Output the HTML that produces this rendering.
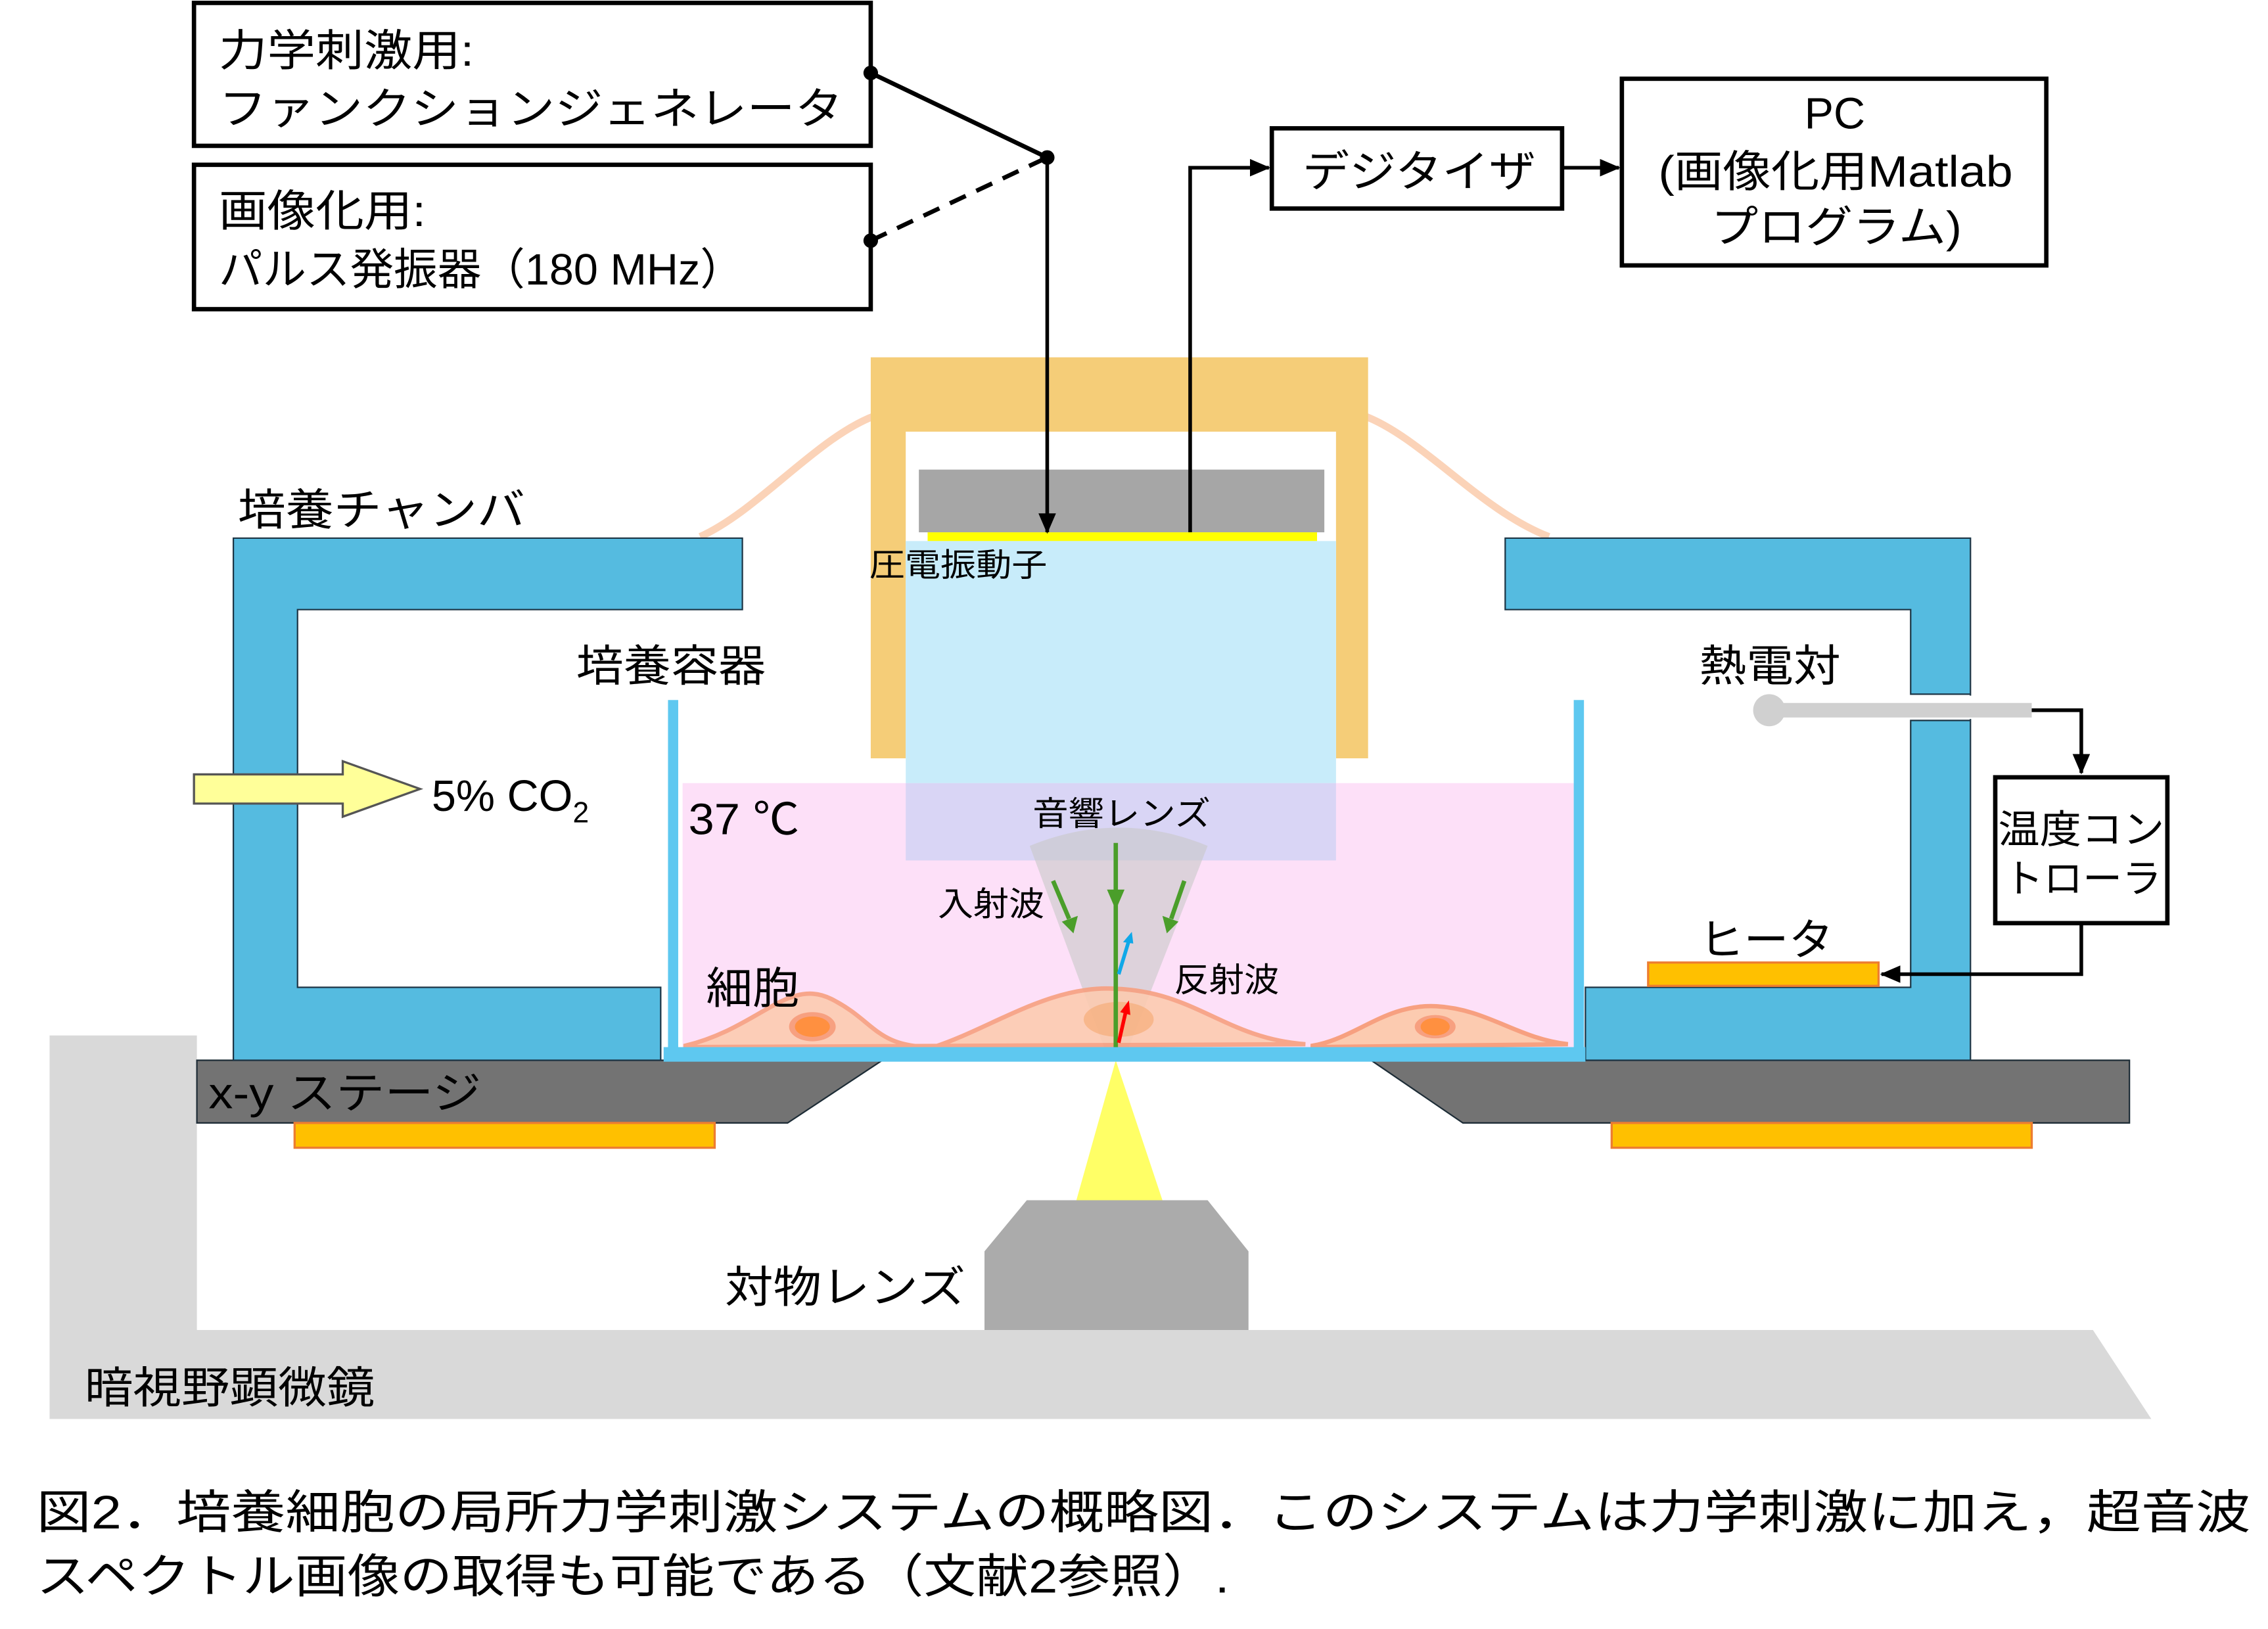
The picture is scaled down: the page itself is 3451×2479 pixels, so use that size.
<!DOCTYPE html>
<html><head><meta charset="utf-8"><style>
html,body{margin:0;padding:0;background:#fff;}
svg{display:block;}
text{font-family:"Liberation Sans","Noto Sans CJK JP",sans-serif;fill:#000;}
</style></head><body>
<svg width="3451" height="2479" viewBox="0 0 1555 1117" preserveAspectRatio="none" xmlns="http://www.w3.org/2000/svg">
<defs>
<marker id="ahb" markerWidth="14" markerHeight="12" refX="13" refY="6" orient="auto" markerUnits="userSpaceOnUse"><path d="M0,0 L14,6 L0,12 Z" fill="#000"/></marker>
</defs>

<!-- microscope -->
<path d="M34,710 H135 V912 H1435 L1475,973 H34 Z" fill="#d9d9d9"/>
<!-- objective -->
<path d="M704,823 H828 L856,858 V912 H675 V858 Z" fill="#ababab"/>
<path d="M765,727 L797,823 H738 Z" fill="#ffff66"/>

<!-- stage -->
<path d="M135,727 H605 L540,770 H135 Z" fill="#737373" stroke="#1d2c36" stroke-width="1"/>
<path d="M940,727 H1460 V770 H1003 Z" fill="#737373" stroke="#1d2c36" stroke-width="1"/>
<rect x="202" y="770" width="288" height="17" fill="#ffc000" stroke="#ed7d31" stroke-width="1.5"/>
<rect x="1105" y="770" width="288" height="17" fill="#ffc000" stroke="#ed7d31" stroke-width="1.5"/>

<!-- cables -->
<path d="M600,285 C560,300 520,350 480,368" fill="none" stroke="#fbd3b8" stroke-width="5"/>
<path d="M935,285 C975,300 1015,350 1062,368" fill="none" stroke="#fbd3b8" stroke-width="5"/>

<!-- chamber -->
<path d="M160,369 H509 V418 H204 V677 H453 V727 H160 Z" fill="#55bbe0" stroke="#1d3545" stroke-width="1"/>
<path d="M1032,369 H1351 V727 H1087 V677 H1310 V494 H1351 V476 H1310 V418 H1032 Z" fill="#55bbe0" stroke="#1d3545" stroke-width="1"/>
<rect x="1300" y="477" width="60" height="16" fill="#fff"/>

<!-- frame -->
<path d="M597,245 H938 V520 H916 V296 H621 V520 H597 Z" fill="#f5cd78"/>
<rect x="630" y="322" width="278" height="43" fill="#a6a6a6"/>
<rect x="636" y="365" width="267" height="6" fill="#ffff00"/>

<!-- medium -->
<rect x="468" y="537" width="611" height="181" fill="#fde0f8"/>
<rect x="621" y="371" width="295" height="166" fill="#c8ecfa"/>
<rect x="621" y="537" width="295" height="53" fill="#d9d5f5"/>

<!-- cone -->
<path d="M706,580 Q767,555 828,580 L774,718 H757 Z" fill="#c8c8c8" opacity="0.6"/>

<!-- cells -->
<path d="M470,717 C520,705 540,670 570,685 C600,700 600,718 640,718 C680,705 720,675 765,678 C820,680 840,712 895,716 L470,718 Z" fill="#fccbb0" opacity="0.9" stroke="#f7a080" stroke-width="3"/>
<path d="M900,717 C930,712 950,688 985,690 C1020,692 1040,712 1075,716 L900,718 Z" fill="#fccbb0" stroke="#f7a080" stroke-width="3"/>
<ellipse cx="557" cy="704" rx="16" ry="10" fill="#f7a080"/><ellipse cx="557" cy="704" rx="12" ry="7" fill="#ff9040"/>
<ellipse cx="984" cy="704" rx="14" ry="8" fill="#f7a080"/><ellipse cx="984" cy="704" rx="10" ry="6" fill="#ff9040"/>
<ellipse cx="767" cy="699" rx="24" ry="12" fill="#f5a870" opacity="0.6"/>

<!-- container -->
<rect x="458" y="480" width="7" height="247" fill="#5ec8f0"/>
<rect x="1079" y="480" width="7" height="247" fill="#5ec8f0"/>
<rect x="455" y="718" width="632" height="10" fill="#5ec8f0"/>

<!-- waves -->
<line x1="765" y1="578" x2="765" y2="718" stroke="#4a9e2a" stroke-width="3"/>
<path d="M759,610 L771,610 L765,624 Z" fill="#4a9e2a"/>
<line x1="722" y1="604" x2="733" y2="630" stroke="#4a9e2a" stroke-width="3"/>
<path d="M728,632 L739,628 L736,640 Z" fill="#4a9e2a"/>
<line x1="812" y1="604" x2="803" y2="630" stroke="#4a9e2a" stroke-width="3"/>
<path d="M797,628 L808,632 L800,640 Z" fill="#4a9e2a"/>
<line x1="767" y1="668" x2="774" y2="645" stroke="#10a8e8" stroke-width="2.5"/>
<path d="M770,646 L777,647 L776,639 Z" fill="#10a8e8"/>
<line x1="767" y1="715" x2="772" y2="693" stroke="#f00" stroke-width="2.5"/>
<path d="M768,694 L775,696 L774,686 Z" fill="#f00"/>

<!-- thermocouple -->
<line x1="1213" y1="487" x2="1393" y2="487" stroke="#d0d0d0" stroke-width="10"/>
<circle cx="1213" cy="487" r="11" fill="#d0d0d0"/>
<path d="M1393,487 H1427 V530" fill="none" stroke="#000" stroke-width="2.5" marker-end="url(#ahb)"/>
<rect x="1368" y="533" width="118" height="100" fill="#fff" stroke="#000" stroke-width="3"/>
<path d="M1427,633 V668 H1290" fill="none" stroke="#000" stroke-width="2.5" marker-end="url(#ahb)"/>
<rect x="1130" y="660" width="158" height="16" fill="#ffc000" stroke="#ed7d31" stroke-width="1.5"/>

<!-- CO2 arrow -->
<path d="M133,531 H235 V522 L288,541 L235,560 V551 H133 Z" fill="#ffff99" stroke="#555" stroke-width="1.5"/>

<!-- top boxes -->
<rect x="133" y="2" width="464" height="98" fill="#fff" stroke="#000" stroke-width="3"/>
<rect x="133" y="113" width="464" height="99" fill="#fff" stroke="#000" stroke-width="3"/>
<rect x="872" y="88" width="199" height="55" fill="#fff" stroke="#000" stroke-width="3"/>
<rect x="1112" y="54" width="291" height="128" fill="#fff" stroke="#000" stroke-width="3"/>
<line x1="597" y1="50" x2="718" y2="108" stroke="#000" stroke-width="3"/>
<line x1="597" y1="165" x2="718" y2="108" stroke="#000" stroke-width="3" stroke-dasharray="12,8"/>
<circle cx="597" cy="50" r="5" fill="#000"/><circle cx="597" cy="165" r="5" fill="#000"/><circle cx="718" cy="108" r="5" fill="#000"/>
<line x1="718" y1="108" x2="718" y2="365" stroke="#000" stroke-width="2.5" marker-end="url(#ahb)"/>
<path d="M816,365 V115 H870" fill="none" stroke="#000" stroke-width="2.5" marker-end="url(#ahb)"/>
<line x1="1071" y1="115" x2="1110" y2="115" stroke="#000" stroke-width="2.5" marker-end="url(#ahb)"/>

<!-- texts -->
<text x="150" y="45" font-size="30" textLength="175" lengthAdjust="spacingAndGlyphs">力学刺激用:</text>
<text x="150" y="85" font-size="30" textLength="428" lengthAdjust="spacingAndGlyphs">ファンクションジェネレータ</text>
<text x="150" y="155" font-size="30" textLength="142" lengthAdjust="spacingAndGlyphs">画像化用:</text>
<text x="150" y="195" font-size="30" textLength="360" lengthAdjust="spacingAndGlyphs">パルス発振器（180 MHz）</text>
<text x="893" y="128" font-size="30" textLength="160" lengthAdjust="spacingAndGlyphs">デジタイザ</text>
<text x="1258" y="88" font-size="30" text-anchor="middle">PC</text>
<text x="1137" y="128" font-size="30" textLength="243" lengthAdjust="spacingAndGlyphs">(画像化用Matlab</text>
<text x="1173" y="166" font-size="30" textLength="172" lengthAdjust="spacingAndGlyphs">プログラム)</text>
<text x="596" y="395" font-size="22" textLength="122" lengthAdjust="spacingAndGlyphs">圧電振動子</text>
<text x="163" y="360" font-size="30" textLength="197" lengthAdjust="spacingAndGlyphs">培養チャンバ</text>
<text x="395" y="467" font-size="30" textLength="130" lengthAdjust="spacingAndGlyphs">培養容器</text>
<text x="1165" y="467" font-size="30" textLength="97" lengthAdjust="spacingAndGlyphs">熱電対</text>
<text x="296" y="556" font-size="30">5% CO<tspan font-size="20" dy="8">2</tspan></text>
<text x="472" y="572" font-size="30" textLength="76" lengthAdjust="spacingAndGlyphs">37 ℃</text>
<text x="708" y="566" font-size="23" textLength="122" lengthAdjust="spacingAndGlyphs">音響レンズ</text>
<text x="643" y="628" font-size="23" textLength="73" lengthAdjust="spacingAndGlyphs">入射波</text>
<text x="805" y="680" font-size="23" textLength="72" lengthAdjust="spacingAndGlyphs">反射波</text>
<text x="484" y="688" font-size="30" textLength="64" lengthAdjust="spacingAndGlyphs">細胞</text>
<text x="1370" y="578" font-size="27" textLength="114" lengthAdjust="spacingAndGlyphs">温度コン</text>
<text x="1374" y="612" font-size="27" textLength="108" lengthAdjust="spacingAndGlyphs">トローラ</text>
<text x="1165" y="655" font-size="30" textLength="92" lengthAdjust="spacingAndGlyphs">ヒータ</text>
<text x="143" y="760" font-size="30" textLength="187" lengthAdjust="spacingAndGlyphs">x-y ステージ</text>
<text x="497" y="893" font-size="30" textLength="165" lengthAdjust="spacingAndGlyphs">対物レンズ</text>
<text x="58" y="962" font-size="30" textLength="199" lengthAdjust="spacingAndGlyphs">暗視野顕微鏡</text>
<text x="25" y="1048" font-size="32" textLength="1518" lengthAdjust="spacingAndGlyphs">図2．培養細胞の局所力学刺激システムの概略図．このシステムは力学刺激に加え，超音波</text>
<text x="25" y="1092" font-size="32" textLength="818" lengthAdjust="spacingAndGlyphs">スペクトル画像の取得も可能である（文献2参照）.</text>
</svg>
</body></html>
